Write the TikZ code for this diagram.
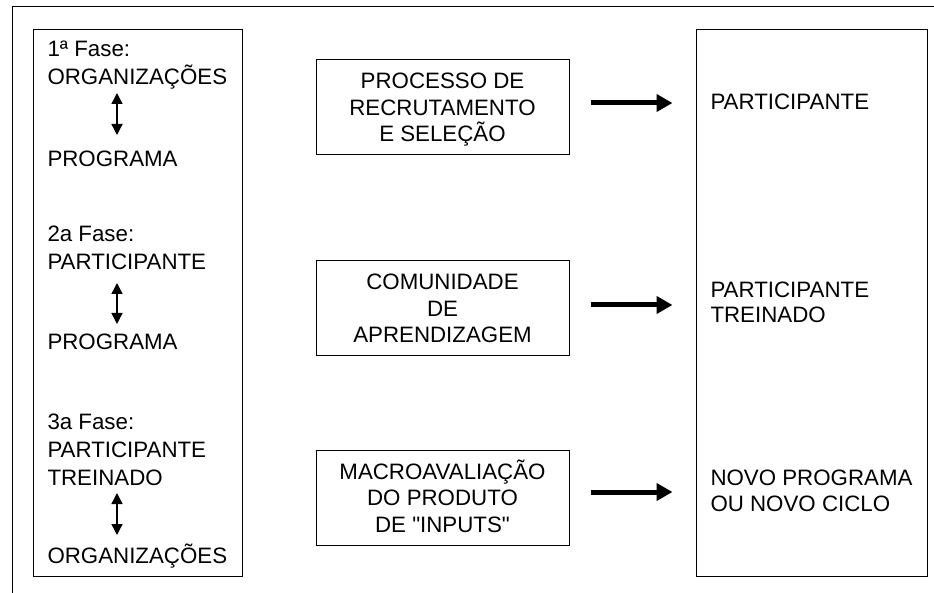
\documentclass[tikz,border=0pt]{standalone}
\usepackage{fontspec}
\newfontfamily\diagfont{Liberation Sans}
\usepackage{tikz}
\usetikzlibrary{positioning,arrows.meta}

\begin{document}
\begin{tikzpicture}[x=1pt,y=-1pt,line width=1pt,
	boxnode/.style={rectangle,draw,inner sep=0pt},
	leftnode/.style={rectangle,inner sep=0pt,anchor=base west,align=left,font=\diagfont\fontsize{22.3}{28}\selectfont},
	rightnode/.style={rectangle,inner sep=0pt,anchor=base west,align=left,font=\diagfont\fontsize{22.3}{25.5}\selectfont},
	midnode/.style={boxnode,minimum width=253pt,minimum height=95pt,align=center,text height=69pt,text depth=0pt,font=\diagfont\fontsize{22.3}{26.5}\selectfont},
	dblarrow/.style={{Triangle[length=11pt,width=11pt]}-{Triangle[length=11pt,width=11pt]},line width=1.4pt},
	bigarrow/.style={-{Triangle[length=16pt,width=17pt]},line width=5pt,shorten <=21pt,shorten >=23pt}]
	
	\useasboundingbox (0,0) rectangle (934,593);
	\draw (12,593) -- (12,7) -- (934,7);
	
	\node [boxnode,minimum width=209pt,minimum height=546pt] (0) at (137.5, 303) {};
	\node [leftnode] (1) at (47, 85) {1ª Fase:\\ORGANIZAÇÕES};
	\node [leftnode] (2) at (47, 167) {PROGRAMA};
	\node [leftnode] (3) at (47, 270) {2a Fase:\\PARTICIPANTE};
	\node [leftnode] (4) at (47, 350) {PROGRAMA};
	\node [leftnode] (5) at (47, 485) {3a Fase:\\PARTICIPANTE\\TREINADO};
	\node [leftnode] (6) at (47, 563) {ORGANIZAÇÕES};
	\coordinate (1b) at (117, 93);
	\coordinate (2b) at (117, 135);
	\coordinate (3b) at (117, 283);
	\coordinate (4b) at (117, 324);
	\coordinate (5b) at (117, 493);
	\coordinate (6b) at (117, 535);
	
	\node [midnode] (7) at (442.5, 107.5) {PROCESSO DE\\RECRUTAMENTO\\E SELEÇÃO};
	\node [midnode] (8) at (442.5, 308.5) {COMUNIDADE\\DE\\APRENDIZAGEM};
	\node [midnode] (9) at (442.5, 497.5) {MACROAVALIAÇÃO\\DO PRODUTO\\DE "INPUTS"};
	
	\node [boxnode,minimum width=231pt,minimum height=546pt] (10) at (811.5, 303) {};
	\node [rightnode] (11) at (710, 110) {PARTICIPANTE};
	\node [rightnode] (12) at (710, 323) {PARTICIPANTE\\TREINADO};
	\node [rightnode] (13) at (710, 511) {NOVO PROGRAMA\\OU NOVO CICLO};
	
	\draw[dblarrow] (1b) to (2b);
	\draw[dblarrow] (3b) to (4b);
	\draw[dblarrow] (5b) to (6b);
	
	\draw[bigarrow] ([yshift=4.5pt]7.east) to ([yshift=4.5pt]7.east -| 10.west);
	\draw[bigarrow] ([yshift=3.5pt]8.east) to ([yshift=3.5pt]8.east -| 10.west);
	\draw[bigarrow] ([yshift=5.5pt]9.east) to ([yshift=5.5pt]9.east -| 10.west);
\end{tikzpicture}
\end{document}
